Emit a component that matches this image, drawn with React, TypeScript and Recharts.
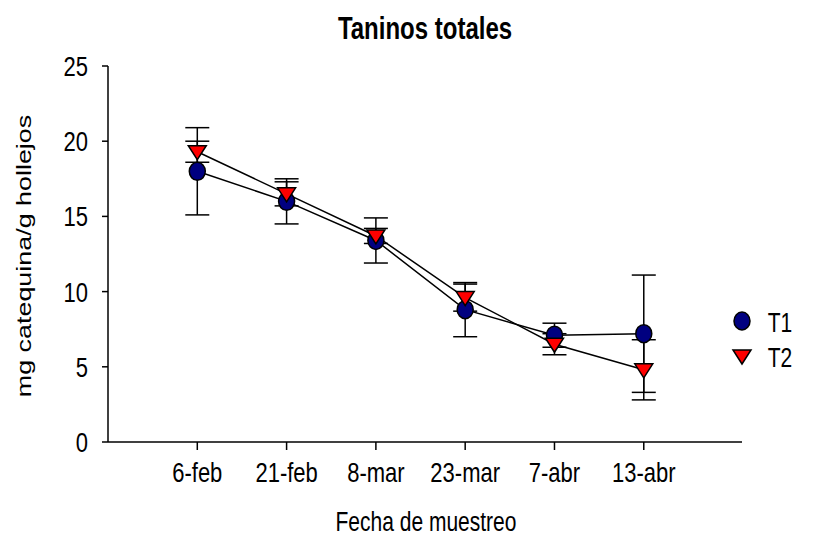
import React from 'react';
import { LineChart, Line, XAxis, YAxis, ErrorBar } from 'recharts';

const fechas = ['6-feb', '21-feb', '8-mar', '23-mar', '7-abr', '13-abr'];
const t1 = [18.0, 16.0, 13.4, 8.8, 7.1, 7.2];
const t1Err = [2.9, 1.5, 1.5, 1.8, 0.8, 3.9];
const t2 = [19.3, 16.5, 13.7, 9.6, 6.5, 4.8];
const t2Err = [0.7, 0.8, 0.5, 0.9, 0.7, 2.0];
const yTicks = [0, 5, 10, 15, 20, 25];

const data = fechas.map((f, i) => ({
  x: i + 1,
  fecha: f,
  t1: t1[i],
  t1Err: t1Err[i],
  t2: t2[i],
  t2Err: t2Err[i],
}));

const FONT = '"Liberation Sans", Arial, sans-serif';
const STRETCH = 1.28; // the original picture is stretched vertically

const CircleDot = (props: any) => {
  const { cx, cy, index } = props;
  if (cx == null || cy == null) return <g key={`c${index}`} />;
  return <ellipse key={`c${index}`} cx={cx} cy={cy} rx={8} ry={9} fill="#000080" stroke="#000" strokeWidth={1.5} />;
};

const TriDot = (props: any) => {
  const { cx, cy, index } = props;
  if (cx == null || cy == null) return <g key={`t${index}`} />;
  const pts = `${cx - 9},${cy - 6} ${cx + 9},${cy - 6} ${cx},${cy + 8}`;
  return <polygon key={`t${index}`} points={pts} fill="#ff0000" stroke="#000" strokeWidth={1.5} />;
};

const XTick = (props: any) => {
  const { x, y, payload } = props;
  return (
    <text
      transform={`translate(${x},${y + 20}) scale(1,${STRETCH})`}
      textAnchor="middle"
      dominantBaseline="central"
      fontSize={22}
      fontFamily={FONT}
      fill="#000"
    >
      {fechas[payload.value - 1]}
    </text>
  );
};

const YTick = (props: any) => {
  const { x, y, payload } = props;
  return (
    <text
      transform={`translate(${x - 12},${y}) scale(1,${STRETCH})`}
      textAnchor="end"
      dominantBaseline="central"
      fontSize={22}
      fontFamily={FONT}
      fill="#000"
    >
      {payload.value}
    </text>
  );
};

const centered = (left: number, top: number, extra: string): React.CSSProperties => ({
  position: 'absolute',
  left,
  top,
  whiteSpace: 'nowrap',
  lineHeight: 1,
  transform: `translate(-50%, -50%) ${extra}`,
});

const App: React.FC = () => {
  return (
    <div style={{ position: 'fixed', left: 0, top: 0, width: 821, height: 539, background: '#fff', fontFamily: FONT, color: '#000' }}>
      <LineChart width={821} height={539} data={data} margin={{ top: 66, right: 79, left: 22, bottom: 67 }}>
        <XAxis
          dataKey="x"
          type="number"
          domain={[0, 7.1]}
          ticks={[1, 2, 3, 4, 5, 6]}
          height={30}
          stroke="#000"
          strokeWidth={1.5}
          tickSize={8}
          tick={XTick}
          allowDataOverflow
        />
        <YAxis
          type="number"
          domain={[0, 25]}
          ticks={yTicks}
          width={86}
          stroke="#000"
          strokeWidth={1.5}
          tickSize={6}
          tick={YTick}
        />
        <Line dataKey="t1" stroke="#000" strokeWidth={1.5} dot={CircleDot} activeDot={false} isAnimationActive={false}>
          <ErrorBar dataKey="t1Err" direction="y" width={12} stroke="#000" strokeWidth={1.5} />
        </Line>
        <Line dataKey="t2" stroke="#000" strokeWidth={1.5} dot={TriDot} activeDot={false} isAnimationActive={false}>
          <ErrorBar dataKey="t2Err" direction="y" width={12} stroke="#000" strokeWidth={1.5} />
        </Line>
      </LineChart>

      <div style={{ ...centered(425, 29, `scaleY(${STRETCH})`), fontSize: 24, fontWeight: 'bold' }}>Taninos totales</div>
      <div style={{ ...centered(426, 521, `scaleY(${STRETCH})`), fontSize: 21 }}>Fecha de muestreo</div>
      <div style={{ ...centered(23, 256, `rotate(-90deg) scaleX(${STRETCH})`), fontSize: 21 }}>mg catequina/g hollejos</div>

      <svg style={{ position: 'absolute', left: 731, top: 310 }} width={22} height={60}>
        <ellipse cx={11} cy={11} rx={8} ry={9} fill="#000080" stroke="#000" strokeWidth={1.5} />
        <polygon points="2,40 20,40 11,54" fill="#ff0000" stroke="#000" strokeWidth={1.5} />
      </svg>
      <div style={{ ...centered(780, 322, `scaleY(${STRETCH})`), fontSize: 21 }}>T1</div>
      <div style={{ ...centered(780, 357, `scaleY(${STRETCH})`), fontSize: 21 }}>T2</div>
    </div>
  );
};

export default App;
